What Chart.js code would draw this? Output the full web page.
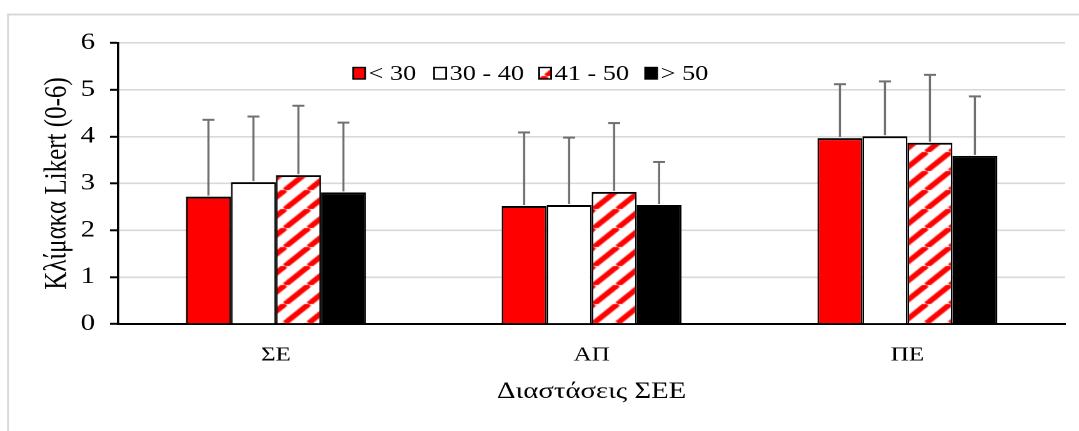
<!DOCTYPE html>
<html>
<head>
<meta charset="utf-8">
<script src="https://cdn.jsdelivr.net/npm/chart.js@4.4.1/dist/chart.umd.min.js"></script>
<style>
  html, body { margin: 0; padding: 0; background: #fff; overflow: hidden; }
  #wrap { width: 863px; height: 431px; transform: scaleX(1.2503); transform-origin: 0 0; }
</style>
</head>
<body>
<div id="wrap"><canvas id="likertChart" width="863" height="431" style="width:863px;height:431px"></canvas></div>
<script>
// categories and age groups
const categories = ['ΣΕ', 'ΑΠ', 'ΠΕ'];
const groupLabels = ['< 30', '30 - 40', '41 - 50', '> 50'];

// mean values per age group
const under30 = [2.72, 2.52, 3.97];
const age30to40 = [3.03, 2.54, 4.01];
const age41to50 = [3.18, 2.82, 3.87];
const over50 = [2.81, 2.54, 3.59];

// standard deviations (upper error bars)
const sdUnder30 = [1.64, 1.57, 1.15];
const sdAge30to40 = [1.40, 1.44, 1.17];
const sdAge41to50 = [1.48, 1.47, 1.45];
const sdOver50 = [1.49, 0.92, 1.27];

const yTicks = [0, 1, 2, 3, 4, 5, 6];

const ctx = document.getElementById('likertChart').getContext('2d');

// red / white diagonal hatch like the excel pattern
function makeHatch() {
    const s = 19;
    const c = document.createElement('canvas');
    c.width = s; c.height = s;
    const g = c.getContext('2d');
    g.fillStyle = '#ffffff';
    g.fillRect(0, 0, s, s);
    g.strokeStyle = '#ff0000';
    g.lineWidth = 5;
    [-s, 0, s].forEach(function(o) {
        g.beginPath();
        g.moveTo(o, s);
        g.lineTo(o + s, 0);
        g.stroke();
    });
    return ctx.createPattern(c, 'repeat');
}
const hatch = makeHatch();

const fills = ['#ff0000', '#ffffff', hatch, '#000000'];
const means = [under30, age30to40, age41to50, over50];
const sds = [sdUnder30, sdAge30to40, sdAge41to50, sdOver50];

// outer light frame
const framePlugin = {
    id: 'frame',
    beforeDraw: function(chart) {
        const c = chart.ctx;
        c.save();
        c.fillStyle = '#d9d9d9';
        c.fillRect(5.6, 13.5, 1.6, 500);
        c.fillRect(5.6, 13.5, 1000, 2);
        c.restore();
    }
};

// upper error bars from the sd arrays
const errorBarPlugin = {
    id: 'errorBars',
    afterDatasetsDraw: function(chart) {
        const c = chart.ctx;
        const y = chart.scales.y;
        c.save();
        c.strokeStyle = '#707070';
        chart.data.datasets.forEach(function(ds, i) {
            const meta = chart.getDatasetMeta(i);
            meta.data.forEach(function(bar, j) {
                const top = y.getPixelForValue(ds.data[j] + sds[i][j]);
                c.lineWidth = 1.7;
                c.beginPath();
                c.moveTo(bar.x, bar.y - 1);
                c.lineTo(bar.x, top);
                c.stroke();
                c.lineWidth = 2;
                c.beginPath();
                c.moveTo(bar.x - 4.8, top);
                c.lineTo(bar.x + 4.8, top);
                c.stroke();
            });
        });
        c.restore();
    }
};

// legend inside the plot with white background
const legendX = [282.4, 347.2, 431.2, 516];
const legendPlugin = {
    id: 'insideLegend',
    afterDatasetsDraw: function(chart) {
        const c = chart.ctx;
        c.save();
        c.fillStyle = '#ffffff';
        c.fillRect(276, 58, 295, 26);
        c.font = '21px "Liberation Serif"';
        c.textBaseline = 'alphabetic';
        chart.data.datasets.forEach(function(ds, i) {
            const x = legendX[i];
            c.fillStyle = ds.backgroundColor;
            c.fillRect(x, 67.5, 9.6, 11.5);
            c.strokeStyle = '#000';
            c.lineWidth = 1.4;
            c.strokeRect(x, 67.5, 9.6, 11.5);
            c.fillStyle = '#000';
            c.fillText(ds.label, x + 12.4, 80);
        });
        c.restore();
    }
};

new Chart(ctx, {
    type: 'bar',
    data: {
        labels: categories,
        datasets: groupLabels.map(function(lbl, i) {
            return {
                label: lbl,
                data: means[i],
                backgroundColor: fills[i],
                borderColor: '#000000',
                borderWidth: { top: 2, left: 1.3, right: 1.3, bottom: 0 },
                borderSkipped: 'start'
            };
        })
    },
    options: {
        responsive: false,
        animation: false,
        devicePixelRatio: 2,
        layout: { padding: { left: 0, right: 11, top: 43, bottom: 0 } },
        font: { family: '"Liberation Serif"' },
        plugins: {
            legend: { display: false },
            tooltip: { enabled: false }
        },
        datasets: {
            bar: { categoryPercentage: 0.57, barPercentage: 1.0 }
        },
        scales: {
            x: {
                grid: { display: false, drawTicks: false },
                border: { color: '#000000', width: 2 },
                ticks: {
                    color: '#000000',
                    padding: 19,
                    font: { family: '"Liberation Serif"', size: 20 }
                },
                title: {
                    display: true,
                    text: 'Διαστάσεις ΣΕΕ',
                    color: '#000000',
                    padding: { top: 25, bottom: 25 },
                    font: { family: '"Liberation Serif"', size: 23 }
                },
                afterFit: function(scale) { scale.height = 107; }
            },
            y: {
                min: 0,
                max: 6,
                ticks: {
                    stepSize: 0.5,
                    color: '#000000',
                    padding: 12,
                    font: { family: '"Liberation Serif"', size: 23 },
                    callback: function(v) {
                        return yTicks.indexOf(v) >= 0 ? String(v) : '';
                    }
                },
                grid: {
                    lineWidth: 1.6,
                    color: function(c) {
                        return Number.isInteger(c.tick.value) ? '#d9d9d9' : '#f0f0f0';
                    },
                    tickColor: function(c) {
                        return Number.isInteger(c.tick.value) ? '#000000' : 'rgba(0,0,0,0)';
                    },
                    tickLength: 6.4,
                    tickWidth: 2
                },
                border: { color: '#000000', width: 1.8 },
                title: {
                    display: true,
                    text: 'Κλίμακα Likert (0-6)',
                    color: '#000000',
                    padding: { top: 31, bottom: 31 },
                    font: { family: '"Liberation Serif"', size: 25 }
                },
                afterFit: function(scale) { scale.width = 94.4; }
            }
        }
    },
    plugins: [framePlugin, errorBarPlugin, legendPlugin]
});
</script>
</body>
</html>
